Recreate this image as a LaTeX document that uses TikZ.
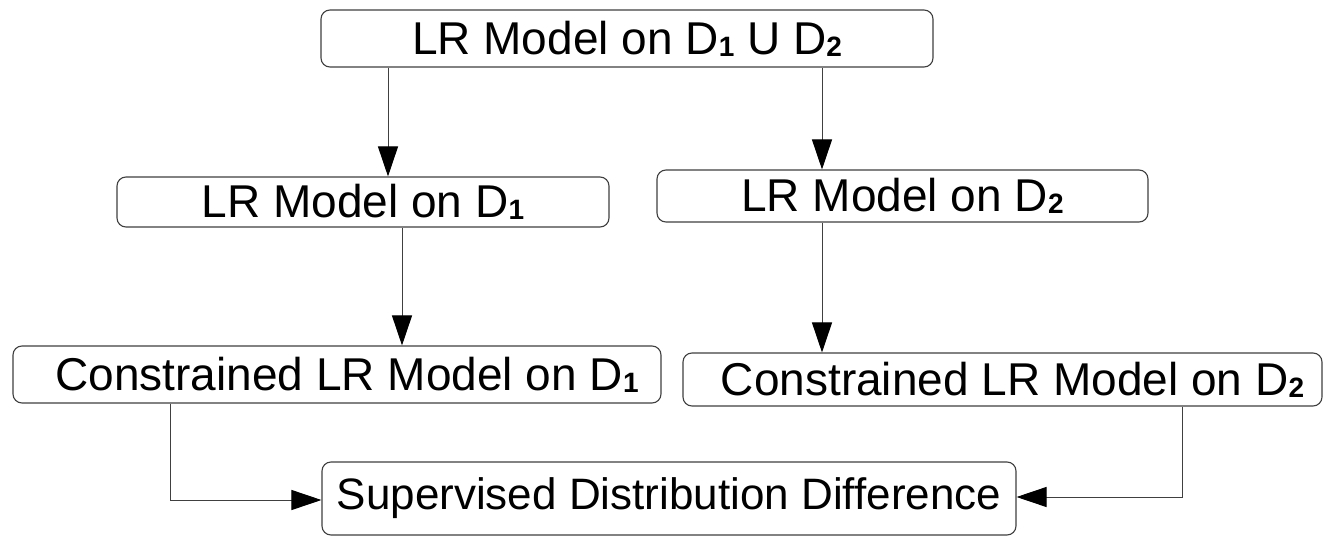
\documentclass[tikz,border=0pt]{standalone}
\usepackage{fontspec}
\setmainfont{Liberation Sans}
\usetikzlibrary{arrows.meta}
% small bold index digit after a dataset name
\newcommand{\dsub}[1]{\raisebox{-0.04em}{\fontsize{28}{30}\selectfont\bfseries #1}}
\begin{document}
\begin{tikzpicture}[x=1pt,y=-1pt,
  box/.style={draw=black!75,line width=1.1pt,rounded corners=9pt,rectangle,
    inner sep=0pt,font=\fontsize{46}{50}\selectfont},
  link/.style={draw=black!75,line width=1pt},
  arr/.style={link,-{Triangle[length=30pt,width=20pt,color=black]}}]
\useasboundingbox[fill=white] (0,0) rectangle (1326,541);

\node[box,minimum width=612pt,minimum height=57pt] (top) at (627,38.5)
  {LR Model on D\dsub{1} U D\dsub{2}};
\node[box,minimum width=492pt,minimum height=50pt] (d1) at (363,202)
  {LR Model on D\dsub{1}};
\node[box,minimum width=491pt,minimum height=52pt] (d2) at (902.5,196)
  {LR Model on D\dsub{2}};
\node[box,minimum width=648pt,minimum height=57pt] (c1) at (337,374.5)
  {\hspace{20pt}Constrained LR Model on D\dsub{1}};
\node[box,minimum width=639pt,minimum height=53pt] (c2) at (1002.5,379.5)
  {\hspace{20pt}Constrained LR Model on D\dsub{2}};
\node[box,minimum width=694pt,minimum height=73pt,font=\fontsize{44}{48}\selectfont] (sd) at (669,498.5)
  {Supervised Distribution Difference};

% top model splits into the two per-dataset models
\draw[arr] ([xshift=-239pt]top.south) -- ([xshift=25pt]d1.north);
\draw[arr] ([xshift=195pt]top.south) -- ([xshift=-80.5pt]d2.north);
% each model is then constrained
\draw[arr] ([xshift=39pt]d1.south) -- ([xshift=65pt]c1.north);
\draw[arr] ([xshift=-80.5pt]d2.south) -- ([xshift=-180.5pt]c2.north);
% both constrained models feed the distribution difference
\coordinate (lk) at (170,500);
\coordinate (rk) at (1182,497);
\draw[arr] (c1.south -| lk) -- (lk) -- (sd.west |- lk);
\draw[arr] (c2.south -| rk) -- (rk) -- (sd.east |- rk);
\end{tikzpicture}
\end{document}
